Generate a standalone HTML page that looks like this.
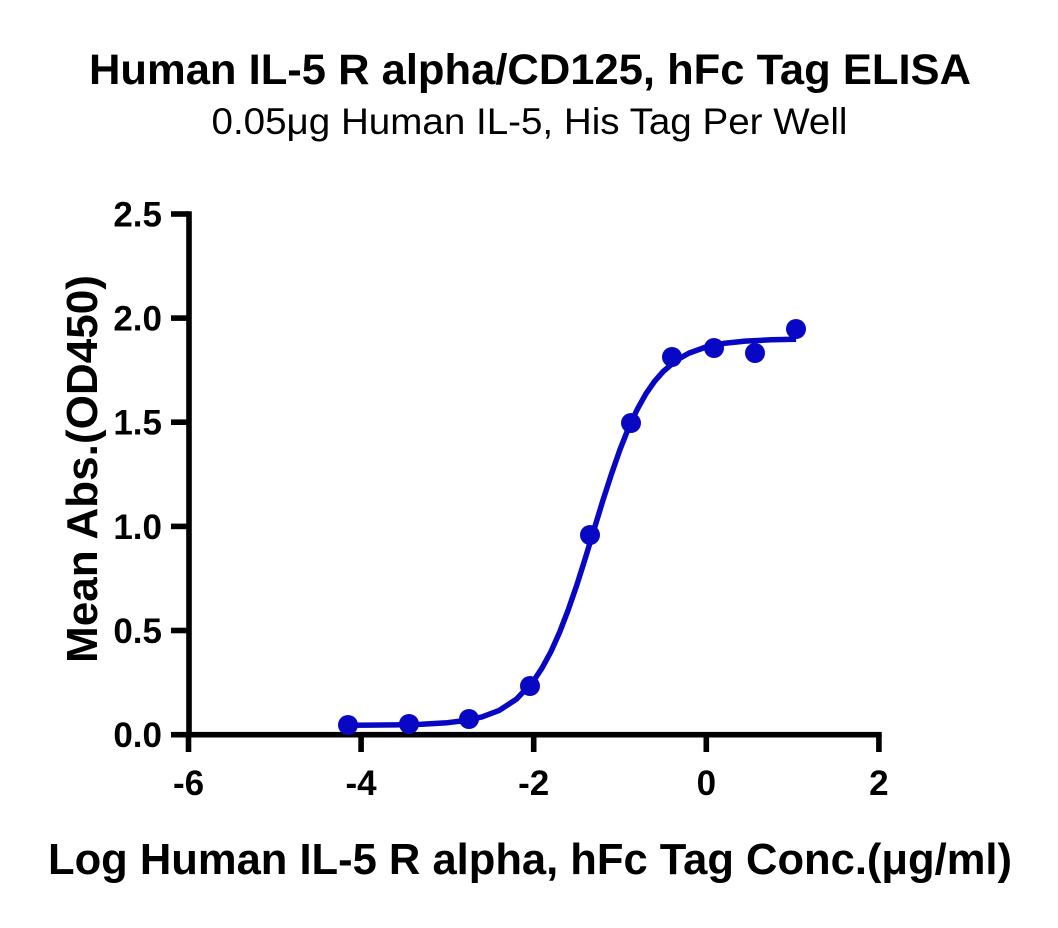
<!DOCTYPE html>
<html>
<head>
<meta charset="utf-8">
<style>
html,body{margin:0;padding:0;background:#fff;}
svg{display:block;}
text{font-family:"Liberation Sans",Arial,sans-serif;fill:#000;}
</style>
</head>
<body>
<svg width="1058" height="928" viewBox="0 0 1058 928" xmlns="http://www.w3.org/2000/svg">
<rect width="1058" height="928" fill="#fff"/>
<!-- Titles -->
<text x="89" y="84" font-size="43" font-weight="bold" textLength="882" lengthAdjust="spacingAndGlyphs">Human IL-5 R alpha/CD125, hFc Tag ELISA</text>
<text x="211.5" y="134" font-size="37" textLength="636" lengthAdjust="spacingAndGlyphs">0.05μg Human IL-5, His Tag Per Well</text>

<!-- Y axis label -->
<text transform="translate(97,663) rotate(-90)" x="0" y="0" font-size="44" font-weight="bold" textLength="388" lengthAdjust="spacingAndGlyphs">Mean Abs.(OD450)</text>

<!-- X axis label -->
<text x="48" y="874" font-size="43.4" font-weight="bold" textLength="964" lengthAdjust="spacingAndGlyphs">Log Human IL-5 R alpha, hFc Tag Conc.(μg/ml)</text>

<!-- Axes -->
<rect x="186.2" y="211.3" width="5.6" height="526.2" fill="#000"/>
<rect x="186.2" y="731.9" width="695.5" height="5.6" fill="#000"/>

<!-- Y ticks -->
<g fill="#000">
<rect x="171" y="211.2" width="18" height="5.6"/>
<rect x="171" y="315.3" width="18" height="5.6"/>
<rect x="171" y="419.4" width="18" height="5.6"/>
<rect x="171" y="523.6" width="18" height="5.6"/>
<rect x="171" y="627.7" width="18" height="5.6"/>
<rect x="171" y="731.9" width="18" height="5.6"/>
</g>
<!-- X ticks -->
<g fill="#000">
<rect x="185.7" y="734" width="5.6" height="18"/>
<rect x="358.3" y="734" width="5.6" height="18"/>
<rect x="530.9" y="734" width="5.6" height="18"/>
<rect x="703.5" y="734" width="5.6" height="18"/>
<rect x="876.1" y="734" width="5.6" height="18"/>
</g>

<!-- Y tick labels -->
<g font-size="35" font-weight="bold" text-anchor="end">
<text x="162" y="226.5">2.5</text>
<text x="162" y="330.6">2.0</text>
<text x="162" y="434.7">1.5</text>
<text x="162" y="538.9">1.0</text>
<text x="162" y="643">0.5</text>
<text x="162" y="747.2">0.0</text>
</g>
<!-- X tick labels -->
<g font-size="35" font-weight="bold" text-anchor="middle">
<text x="188.5" y="795">-6</text>
<text x="361.1" y="795">-4</text>
<text x="533.7" y="795">-2</text>
<text x="706.3" y="795">0</text>
<text x="878.9" y="795">2</text>
</g>

<!-- Fitted curve -->
<polyline fill="none" stroke="#0808c4" stroke-width="5.5" stroke-linejoin="round"
points="348.2,725.2 369.7,725.1 395.6,724.9 421.5,724.2 447.4,722.7 464.7,720.6 481.9,716.9 499.2,710.4 516.4,699.2 533.7,680.6 542.3,667.6 551.0,651.5 559.6,632.3 568.2,610.0 576.9,584.8 585.5,557.6 594.1,529.3 602.7,501.1 611.4,474.2 620.0,449.5 628.6,427.8 637.3,409.3 645.9,393.8 654.5,381.4 663.2,371.5 676.1,360.4 689.0,353.1 706.3,346.9 723.6,343.4 745.1,341.1 771.0,339.8 796.1,339.3"/>

<!-- Data points -->
<g fill="#0808c4">
<circle cx="348" cy="725" r="10"/>
<circle cx="409" cy="724" r="10"/>
<circle cx="469" cy="719" r="10"/>
<circle cx="530" cy="686" r="10"/>
<circle cx="590" cy="535" r="10"/>
<circle cx="631" cy="423" r="10"/>
<circle cx="672" cy="357" r="10"/>
<circle cx="714" cy="348" r="10"/>
<circle cx="755" cy="353" r="10"/>
<circle cx="796" cy="329" r="10"/>
</g>
</svg>
</body>
</html>
